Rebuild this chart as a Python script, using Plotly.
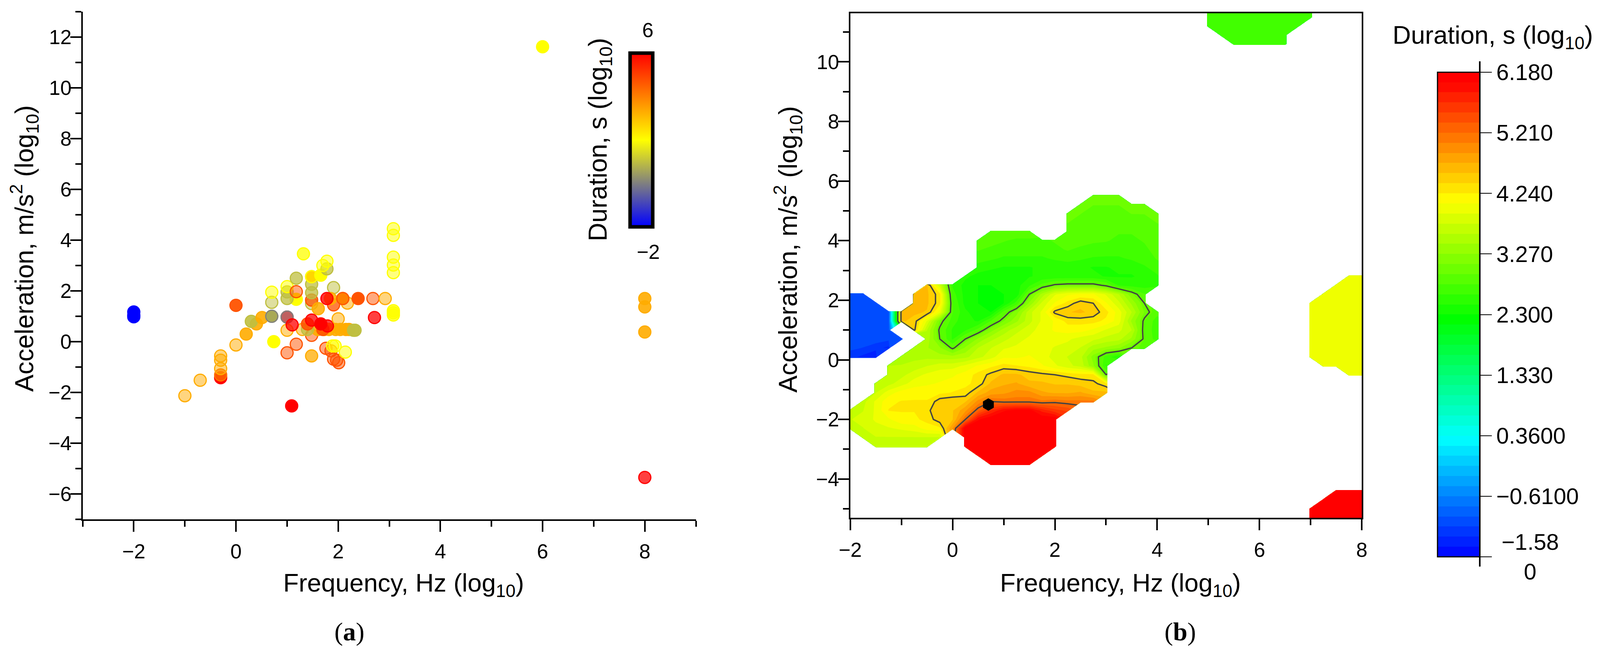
import numpy as np
import plotly.graph_objects as go
from plotly.colors import sample_colorscale

W, H = 4219, 1680
FONT = "Liberation Sans"

# panel (a): frequency, acceleration, duration (all log10), fill alpha of each point
freq_a = [-2, -2, -2, 6.0, 8, 8, 8, 8, 1.09, -1, -0.7,
          -0.3, -0.3, -0.3, -0.3, -0.3, 0, 0.2, 0.4, 0.3, 0.51, 0,
          0.7, 0.7, 0.7, 0.7, 0.74, 1, 1, 1, 1, 1.18, 1.18,
          1, 1, 1, 1.18, 1.18, 1.32, 1.48, 1.48, 1.48, 1.48, 1.48, 1.48,
          1.66, 1.78, 1.7, 1.78, 1.91, 1.61,
          3.08, 3.08, 3.08, 3.08, 3.08, 3.08, 3.08, 3.08,
          1.3, 1.48, 1.6, 1.73, 1.82, 1.95, 2.04, 2.15, 2.21, 1.4, 2.3, 2.33, 1.7,
          1.1, 1.4, 1.48, 1.79, 1.66, 2.0,
          1.91, 1.85, 1.78, 2.18, 2.09, 2.09, 2.39, 2.68, 2.92, 2.71,
          1.76, 1.86, 1.91, 1.97, 2.01, 1.48, 1.89, 1.94, 2.14]
acc_a = [1.17, 1.05, 0.98, 11.62, 1.7, 1.37, 0.38, -5.35, -2.53, -2.13, -1.52,
         -1.42, -1.31, -1.06, -0.73, -0.56, -0.13, 0.3, 0.7, 0.8, 0.95, 1.43,
         1.0, 1.0, 1.55, 1.95, 0.0, 0.97, 0.97, 0.45, -0.44, -0.1, 1.67,
         1.7, 1.96, 2.17, 1.97, 2.5, 3.46, 1.5, 1.64, 1.93, 2.26, 2.56, 2.56,
         2.62, 2.87, 3.0, 3.17, 2.13, 1.3,
         4.45, 4.19, 3.33, 3.02, 2.72, 1.22, 1.14, 1.05,
         0.48, 0.25, 0.48, 0.48, 0.48, 0.48, 0.48, 0.48, 0.48, 0.48, 0.45, 0.45, 0.48,
         0.66, 0.7, 0.85, 0.62, 0.7, 0.9,
         1.45, 1.7, 1.7, 1.52, 1.7, 1.7, 1.7, 1.7, 1.7, 0.95,
         -0.26, -0.36, -0.69, -0.73, -0.83, -0.56, -0.17, -0.17, -0.41]
dur_a = [-2, -2, -2, 2, 3.3, 3.3, 3.3, 6, 6, 3.3, 3.3,
         6, 4.2, 3.3, 3.3, 3.3, 3.3, 3.3, 3.3, 1, 3.3, 4.7,
         1.3, 0, 1, 2, 2, 6, 0, 3.3, 4.7, 4.7, 2,
         1, 1, 2, 4.7, 1, 2, 1, 4.7, 1, 1, 3.3, 2,
         2, 1, 2, 2, 1, 3.3,
         2, 2, 2, 2, 2, 2, 2, 2,
         3.3, 4.7, 3.3, 3.3, 3.3, 3.3, 3.3, 3.3, 3.3, 1, 1, 1, 4.7,
         6, 4.7, 6, 6, 6, 3.3,
         4.7, 3.3, 6, 3.3, 3.3, 4.7, 4.7, 4.7, 3.3, 6,
         4.7, 4.7, 4.7, 4.7, 4.7, 3.3, 2, 2, 2]
alpha_a = [1, 1, 1, 1, 0.9, 0.9, 0.9, 0.75, 1, 0.5, 0.5,
           1, 0.75, 0.5, 0.5, 0.5, 0.5, 0.9, 0.9, 0.9, 0.9, 0.95,
           1, 0.5, 0.5, 0.5, 1, 0.75, 0.5, 0.5, 0.5, 0.5, 1,
           0.75, 0.75, 0.5, 0.5, 0.75, 0.75, 0.5, 0.75, 0.75, 0.75, 1, 0.5,
           1, 0.75, 0.5, 0.5, 0.5, 0.85,
           0.5, 0.5, 0.5, 0.5, 0.5, 0.75, 0.75, 0.75,
           0.5, 0.5, 0.9, 0.9, 0.9, 0.9, 0.9, 0.9, 0.9, 0.75, 0.9, 0.9, 0.9,
           0.75, 0.9, 0.75, 0.75, 1, 0.5,
           0.75, 0.9, 0.8, 0.5, 1, 0.5, 1, 0.5, 0.5, 0.75,
           0.5, 0.5, 0.5, 0.5, 0.5, 0.75, 0.5, 0.5, 0.5]

scale_a = [[0, "#0000ff"], [0.5, "#ffff00"], [1, "#ff0000"]]
scale_b = [[0, "#0000ff"], [0.25, "#00ffff"], [0.5, "#00ff00"], [0.75, "#ffff00"], [1, "#ff0000"]]

# panel (b): surface cells, y -> [(first x, values every 0.25), ...]
z_rows = {
    11.8: [(5.0, [2.7, 2.7, 2.7, 2.7, 2.7, 2.7, 2.7, 2.7, 2.7])],
    11.5: [(5.0, [2.7, 2.7, 2.7, 2.7, 2.7, 2.7, 2.7, 2.7, 2.7])],
    11.2: [(5.0, [2.7, 2.7, 2.7, 2.7, 2.7, 2.7, 2.7, 2.7])],
    10.9: [(5.25, [2.7, 2.7, 2.7, 2.7, 2.7, 2.7])],
    10.6: [(5.5, [2.7, 2.7, 2.7, 2.7, 2.7])],
    5.5: [(2.75, [2.95, 2.95, 2.95])],
    5.2: [(2.5, [2.95, 2.95, 2.95, 2.95, 2.95, 2.95])],
    4.9: [(2.25, [2.95, 2.95, 2.9, 2.9, 2.9, 2.95, 2.95, 2.95])],
    4.6: [(2.25, [2.95, 2.9, 2.9, 2.85, 2.85, 2.85, 2.9, 2.95])],
    4.3: [(0.75, [2.9, 2.9, 2.9, 2.9]), (2.25, [2.9, 2.85, 2.85, 2.8, 2.8, 2.8, 2.85, 2.9])],
    4.0: [(0.5, [2.9, 2.85, 2.8, 2.75, 2.75, 2.75, 2.8, 2.85, 2.85, 2.8, 2.8, 2.75, 2.75, 2.8, 2.85])],
    3.7: [(0.5, [2.8, 2.75, 2.7, 2.7, 2.7, 2.7, 2.75, 2.8, 2.75, 2.75, 2.7, 2.7, 2.7, 2.75, 2.85])],
    3.4: [(0.5, [2.7, 2.65, 2.6, 2.6, 2.6, 2.6, 2.65, 2.7, 2.65, 2.6, 2.6, 2.6, 2.65, 2.7, 2.8])],
    3.1: [(0.5, [2.55, 2.5, 2.45, 2.45, 2.45, 2.5, 2.5, 2.5, 2.5, 2.45, 2.45, 2.5, 2.5, 2.6, 2.7])],
    2.8: [(0.25, [2.5, 2.4, 2.35, 2.35, 2.4, 2.45, 2.5, 2.5, 2.5, 2.5, 2.5, 2.45, 2.45, 2.45, 2.5, 2.6]),
          (7.75, [3.95, 3.95])],
    2.5: [(-0.5, [4.6, 3.8, 2.6, 2.4, 2.3, 2.3, 2.35, 2.4, 2.6, 2.85, 3.05, 3.1, 3.1, 3.1, 2.95, 2.6, 2.55, 2.55, 2.6]),
          (7.5, [3.95, 3.95, 3.95])],
    2.2: [(-2.0, [-1.0, -1.0]),
          (-0.75, [4.6, 4.6, 4.3, 2.7, 2.4, 2.3, 2.3, 2.3, 2.35, 3.0, 3.5, 3.9, 4.05, 4.1, 4.1, 3.9, 3.6, 3.15, 2.8]),
          (7.25, [3.95, 3.95, 3.95, 3.95])],
    1.9: [(-2.0, [-1.0, -1.0, -1.0]),
          (-0.75, [4.6, 4.6, 4.3, 2.8, 2.4, 2.3, 2.25, 2.3, 2.7, 3.3, 3.8, 4.1, 4.3, 4.5, 4.4, 4.1, 3.8, 3.4, 3.0]),
          (7.0, [3.95, 3.95, 3.95, 3.95, 3.95])],
    1.6: [(-2.0, [-1.0, -1.0, -1.0, -1.0]),
          (-1.0, [4.6, 4.6, 4.55, 4.0, 2.8, 2.5, 2.35, 2.3, 2.85, 3.2, 3.7, 3.95, 4.45, 4.55, 4.6, 4.5, 4.3, 4.0, 3.6, 3.1, 2.85]),
          (7.0, [3.95, 3.95, 3.95, 3.95, 3.95])],
    1.3: [(-2.0, [-1.0, -1.0, -1.0, -1.0]),
          (-1.0, [4.6, 4.5, 3.9, 3.1, 2.7, 2.5, 2.45, 2.8, 3.1, 3.4, 3.7, 3.95, 4.1, 4.3, 4.3, 4.3, 4.2, 4.0, 3.4, 2.95, 2.7]),
          (7.0, [3.95, 3.95, 3.95, 3.95, 3.95])],
    1.0: [(-2.0, [-1.0, -1.0, -1.0, -1.0]),
          (-0.75, [4.45, 3.6, 2.95, 2.6, 2.6, 2.85, 3.2, 3.5, 3.7, 3.85, 4.0, 4.1, 4.15, 4.15, 4.05, 3.9, 3.8, 3.6, 2.9, 2.7]),
          (7.0, [3.95, 3.95, 3.95, 3.95, 3.95])],
    0.7: [(-2.0, [-1.0, -1.0, -1.0, -1.05, -1.1]),
          (-0.5, [3.55, 3.0, 2.6, 3.0, 3.3, 3.55, 3.7, 3.85, 3.95, 4.0, 4.0, 3.95, 3.85, 3.8, 3.7, 3.65, 3.4, 2.95, 2.7]),
          (7.0, [3.95, 3.95, 3.95, 3.95, 3.95])],
    0.4: [(-2.0, [-1.05, -1.1, -1.2, -1.3]),
          (-0.75, [3.5, 3.45, 3.3, 2.95, 3.3, 3.6, 3.75, 3.9, 3.95, 4.0, 4.0, 3.9, 3.85, 3.75, 3.5, 3.4, 3.3, 3.0, 2.9]),
          (7.0, [3.95, 3.95, 3.95, 3.95, 3.95])],
    0.1: [(-2.0, [-1.2, -1.3, -1.4]),
          (-1.0, [3.55, 3.55, 3.55, 3.5, 3.5, 3.55, 3.7, 3.85, 4.05, 4.05, 4.1, 4.0, 3.85, 3.75, 3.65, 3.2, 2.7, 2.5]),
          (7.0, [3.95, 3.95, 3.95, 3.95, 3.95])],
    -0.2: [(-1.25, [3.6, 3.6, 3.65, 3.75, 3.85, 3.85, 3.95, 4.1, 4.2, 4.3, 4.25, 4.2, 4.1, 3.95, 3.8, 3.7, 3.3, 2.6]),
           (7.25, [3.95, 3.95, 3.95, 3.95])],
    -0.5: [(-1.25, [3.65, 3.7, 3.85, 3.95, 4.0, 4.05, 4.15, 4.3, 4.45, 4.6, 4.6, 4.5, 4.45, 4.4, 4.35, 4.3, 4.3, 3.0]),
           (7.75, [3.95, 3.95])],
    -0.8: [(-1.5, [3.65, 3.7, 3.85, 4.0, 4.05, 4.1, 4.15, 4.2, 4.3, 4.6, 4.7, 4.75, 4.6, 4.6, 4.55, 4.55, 4.5, 4.45, 4.3])],
    -1.1: [(-1.5, [3.75, 4.0, 4.15, 4.2, 4.2, 4.2, 4.25, 4.3, 4.6, 4.8, 4.85, 4.95, 4.95, 4.75, 4.7, 4.7, 4.75, 4.6, 4.6])],
    -1.4: [(-1.75, [3.7, 3.95, 4.2, 4.25, 4.25, 4.25, 4.5, 4.55, 4.55, 4.95, 5.2, 5.15, 5.15, 5.15, 5.1, 5.15, 5.1, 5.1, 5.1])],
    -1.7: [(-2.0, [3.7, 3.75, 3.95, 4.25, 4.25, 4.25, 4.35, 4.55, 4.55, 4.85, 5.3, 5.7, 6.0, 6.1, 6.1, 5.8, 5.6, 5.5])],
    -2.0: [(-2.0, [3.75, 3.8, 3.95, 4.05, 4.2, 4.2, 4.3, 4.5, 4.55, 5.2, 6.0, 6.18, 6.18, 6.18, 6.18, 6.18, 6.18])],
    -2.3: [(-2.0, [3.75, 3.75, 3.85, 3.9, 3.95, 4.0, 4.15, 4.2, 4.9, 6.18, 6.18, 6.18, 6.18, 6.18, 6.18, 6.18, 6.18])],
    -2.6: [(-1.75, [3.7, 3.75, 3.75, 3.75, 3.75, 3.75, 3.75]),
           (0.25, [6.18, 6.18, 6.18, 6.18, 6.18, 6.18, 6.18, 6.18])],
    -2.9: [(-1.5, [3.75, 3.75, 3.75, 3.75, 3.75]),
           (0.25, [6.18, 6.18, 6.18, 6.18, 6.18, 6.18, 6.18, 6.18])],
    -3.2: [(0.5, [6.18, 6.18, 6.18, 6.18, 6.18, 6.18])],
    -3.5: [(0.75, [6.18, 6.18, 6.18, 6.18])],
    -4.4: [(7.5, [6.18, 6.18, 6.18])],
    -4.7: [(7.25, [6.18, 6.18, 6.18, 6.18])],
    -5.0: [(7.0, [6.18, 6.18, 6.18, 6.18, 6.18])],
    -5.3: [(7.0, [6.18, 6.18, 6.18, 6.18, 6.18])],
}
line_levels = [3.0, 4.4, 5.2]
black_spot_x = [0.7]
black_spot_y = [-1.5]
bar_ticks = [6.18, 5.21, 4.24, 3.27, 2.3, 1.33, 0.36, -0.61, -1.58]
bar_labels = ["6.180", "5.210", "4.240", "3.270", "2.300", "1.330", "0.3600", "−0.6100", " "]

# build the grid
x_grid = np.round(np.arange(-2, 8.01, 0.25), 2)
y_grid = np.round(np.arange(-5.3, 11.81, 0.3), 1)
z_grid = np.full((len(y_grid), len(x_grid)), np.nan)
for y_val, segments in z_rows.items():
    row = int(round((y_val + 5.3) / 0.3))
    for x_start, vals in segments:
        col = int(round((x_start + 2) / 0.25))
        z_grid[row, col:col + len(vals)] = vals


def fx(p):
    return p / W


def fy(p):
    return 1 - p / H


fig = go.Figure()

# (a) scatter, fill alpha differs from the outline so colours are made per point
pos = [(d + 2) / 8 for d in dur_a]
solid = sample_colorscale(scale_a, pos, colortype="tuple")
line_cols = ["rgb(%d,%d,%d)" % tuple(round(c * 255) for c in col) for col in solid]
fill_cols = ["rgba(%d,%d,%d,%s)" % (*[round(c * 255) for c in col], al) for col, al in zip(solid, alpha_a)]
fig.add_trace(go.Scatter(
    x=freq_a, y=acc_a, mode="markers", xaxis="x", yaxis="y", showlegend=False,
    marker=dict(size=31, color=fill_cols, line=dict(color=line_cols, width=3)),
))
# same points only to carry the inset colour bar
fig.add_trace(go.Scatter(
    x=freq_a, y=acc_a, mode="markers", xaxis="x", yaxis="y", showlegend=False, hoverinfo="skip",
    marker=dict(
        size=31, opacity=0, color=dur_a, colorscale=scale_a, cmin=-2, cmax=6, showscale=True,
        colorbar=dict(
            x=fx(1661), xanchor="left", xpad=0, ypad=0, y=fy(581), yanchor="bottom",
            len=445 / H, lenmode="fraction", thickness=58, thicknessmode="pixels",
            outlinecolor="black", outlinewidth=9, showticklabels=False, ticks="",
        ),
    ),
))

# (b) filled map
fig.add_trace(go.Contour(
    x=x_grid, y=y_grid, z=z_grid, xaxis="x2", yaxis="y2", connectgaps=False,
    colorscale=scale_b, zmin=-1.58, zmax=6.18, zauto=False,
    autocontour=False,
    contours=dict(start=-1.58, end=6.18, size=0.1617, coloring="fill", showlines=False),
    line=dict(width=0, smoothing=0),
    colorbar=dict(
        x=fx(3791), xanchor="left", xpad=0, ypad=0, y=fy(1426), yanchor="bottom",
        len=1241 / H, lenmode="fraction", thickness=108, thicknessmode="pixels",
        outlinecolor="black", outlinewidth=3,
        tickmode="array", tickvals=bar_ticks, ticktext=bar_labels,
        ticks="outside", ticklen=30, tickwidth=2, tickcolor="black",
        tickfont=dict(family=FONT, size=58, color="black"),
    ),
))
for level in line_levels:
    fig.add_trace(go.Contour(
        x=x_grid, y=y_grid, z=z_grid, xaxis="x2", yaxis="y2", connectgaps=False,
        showscale=False, hoverinfo="skip", autocontour=False,
        contours=dict(start=level, end=level, size=1, coloring="none"),
        line=dict(color="#444444", width=3.5, smoothing=0),
    ))
fig.add_trace(go.Scatter(
    x=black_spot_x, y=black_spot_y, mode="markers", xaxis="x2", yaxis="y2", showlegend=False,
    marker=dict(symbol="hexagon", size=32, color="black"),
))

axis_common = dict(
    showgrid=False, zeroline=False, showline=True, linecolor="black", linewidth=4,
    ticks="outside", ticklen=28, tickwidth=4, tickcolor="black", dtick=2,
    minor=dict(dtick=1, ticks="outside", ticklen=15, tickwidth=4, tickcolor="black"),
    tickfont=dict(family=FONT, size=52, color="black"),
)

# no fixed width/height: the figure fills the browser window
fig.update_layout(
    margin=dict(l=0, r=0, t=0, b=0, autoexpand=False),
    paper_bgcolor="white", plot_bgcolor="white",
    xaxis=dict(domain=[fx(218), fx(1835)], range=[-3, 9], anchor="y", tick0=0, ticklabelstandoff=6, **axis_common),
    yaxis=dict(domain=[fy(1330), fy(30)], range=[-7, 13], anchor="x", tick0=0, ticklabelstandoff=-14, **axis_common),
    xaxis2=dict(domain=[fx(2242), fx(3591)], range=[-2, 8], anchor="y2", tick0=0, mirror=True, ticklabelstandoff=6, **axis_common),
    yaxis2=dict(domain=[fy(1326), fy(34)], range=[-5.3, 11.63], anchor="x2", tick0=0, mirror=True, ticklabelstandoff=-14, **axis_common),
)


def note(text, x, y, size=65, family=FONT, angle=0):
    fig.add_annotation(
        text=text, xref="paper", yref="paper", x=fx(x), y=fy(y), showarrow=False,
        xanchor="center", yanchor="middle", textangle=angle,
        font=dict(family=family, size=size, color="black"),
    )


# axis titles sit off-centre in the original, so they are placed by hand
note("Frequency, Hz (log<sub>10</sub>)", 1065, 1497)
note("Frequency, Hz (log<sub>10</sub>)", 2955, 1497)
note("Acceleration, m/s<sup>2</sup> (log<sub>10</sub>)", 64, 636, size=66, angle=-90)
note("Acceleration, m/s<sup>2</sup> (log<sub>10</sub>)", 2078, 638, size=66, angle=-90)
note("Duration, s (log<sub>10</sub>)", 3936, 94)
note("Duration, s (log<sub>10</sub>)", 1581, 357, size=66, angle=-90)
note("6", 1708, 77, size=52)
note("−2", 1709, 645, size=52)
note("−1.58", 4035, 1387, size=58)
note("0", 4035, 1463, size=58)
note("(<b>a</b>)", 921, 1618, size=66, family="Liberation Serif")
note("(<b>b</b>)", 3112, 1618, size=66, family="Liberation Serif")

# colour bar spine sticks out past the bar
fig.add_shape(type="line", xref="paper", yref="paper", x0=fx(3902), x1=fx(3902), y0=fy(157), y1=fy(1451),
              line=dict(color="black", width=4))

fig.write_html("out.html", config={"displayModeBar": False},
               post_script="document.body.style.margin='0';window.dispatchEvent(new Event('resize'));")
